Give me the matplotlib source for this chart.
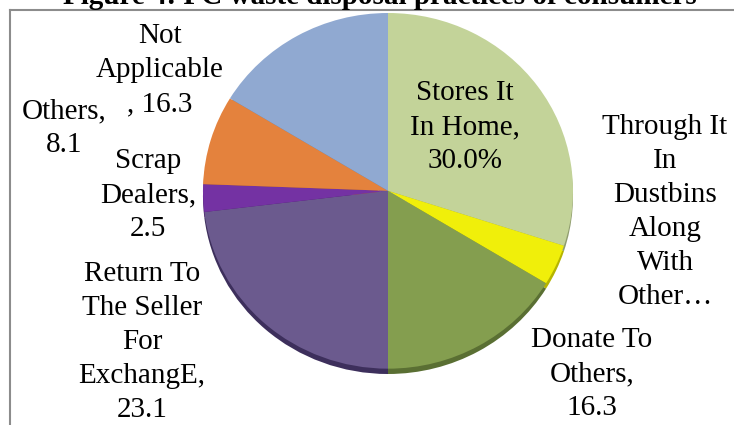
import matplotlib
matplotlib.use("Agg")
import matplotlib.pyplot as plt
from matplotlib.lines import Line2D

# PC waste disposal practices (share of consumers, %)
categories = [
    "Stores It In Home",
    "Through It In Dustbins Along With Other\u2026",
    "Donate To Others",
    "Return To The Seller For ExchangE",
    "Scrap Dealers",
    "Others",
    "Not Applicable",
]
shares = [30.0, 3.7, 16.3, 23.1, 2.5, 8.1, 16.3]
colors = ["#c3d399", "#f0ef0a", "#849e4f", "#6b5a8e", "#7432a3", "#e4823d", "#90a9d1"]
rim_colors = ["#8f9c6e", "#b5b400", "#5a6f33", "#3d2f5c", "#4a1d6b", "#a85b25", "#62789c"]

# label text wrapped the way it appears on the chart
label_lines = [
    ["Stores It", "In Home,", "{:.1f}%"],
    ["Through It", "In", "Dustbins", "Along", "With", "Other\u2026"],
    ["Donate To", "Others,", "{:.1f}"],
    ["Return To", "The Seller", "For", "ExchangE,", "{:.1f}"],
    ["Scrap", "Dealers,", "{:.1f}"],
    ["Others,", "{:.1f}"],
    ["Not", "Applicable", ", {:.1f}"],
]
# label centres in pixels (x from left, y from top)
label_pos = [(465, 127), (665, 212), (592, 374), (142, 342), (148, 195), (64, 128), (160, 70)]

W, H = 734, 425
fig = plt.figure(figsize=(W / 100, H / 100), dpi=100)
fig.patch.set_facecolor("white")

serif = ["Liberation Serif", "DejaVu Serif"]

# pie axes: slightly wider than tall
cx, cy, rx, ry = 388, 191, 185, 178
ax = fig.add_axes([(cx - rx) / W, (H - cy - ry - 5) / H, 2 * rx / W, (2 * ry + 5) / H])

# dark rim underneath gives the pie a bit of depth
ax.pie(shares, colors=rim_colors, startangle=90, counterclock=False,
       radius=1.0, center=(0, -0.03), wedgeprops=dict(linewidth=0))
ax.pie(shares, colors=colors, startangle=90, counterclock=False,
       radius=1.0, wedgeprops=dict(linewidth=0))
ax.set_aspect("auto")
ax.set_xlim(-1, 1)
ax.set_ylim(-1.03, 1)
ax.axis("off")

for lines, val, (px, py) in zip(label_lines, shares, label_pos):
    txt = "\n".join(l.format(val) if "{" in l else l for l in lines)
    fig.text(px / W, 1 - py / H, txt, ha="center", va="center",
             multialignment="center", fontsize=21, family=serif,
             linespacing=1.4, color="black")

# chart frame (only top and left edges fall inside the image)
frame_kw = dict(color="#8c8c8c", linewidth=1.5, transform=fig.transFigure)
fig.add_artist(Line2D([9.5 / W, 1.0], [1 - 9.5 / H, 1 - 9.5 / H], **frame_kw))
fig.add_artist(Line2D([9.5 / W, 9.5 / W], [0, 1 - 9.5 / H], **frame_kw))

# figure caption sits above the frame
fig.text(380 / W, 1 - 4.5 / H, "Figure 4: PC waste disposal practices of consumers",
         ha="center", va="baseline", fontsize=21, fontweight="bold", family=serif)

fig.savefig("out.png", dpi=100)
